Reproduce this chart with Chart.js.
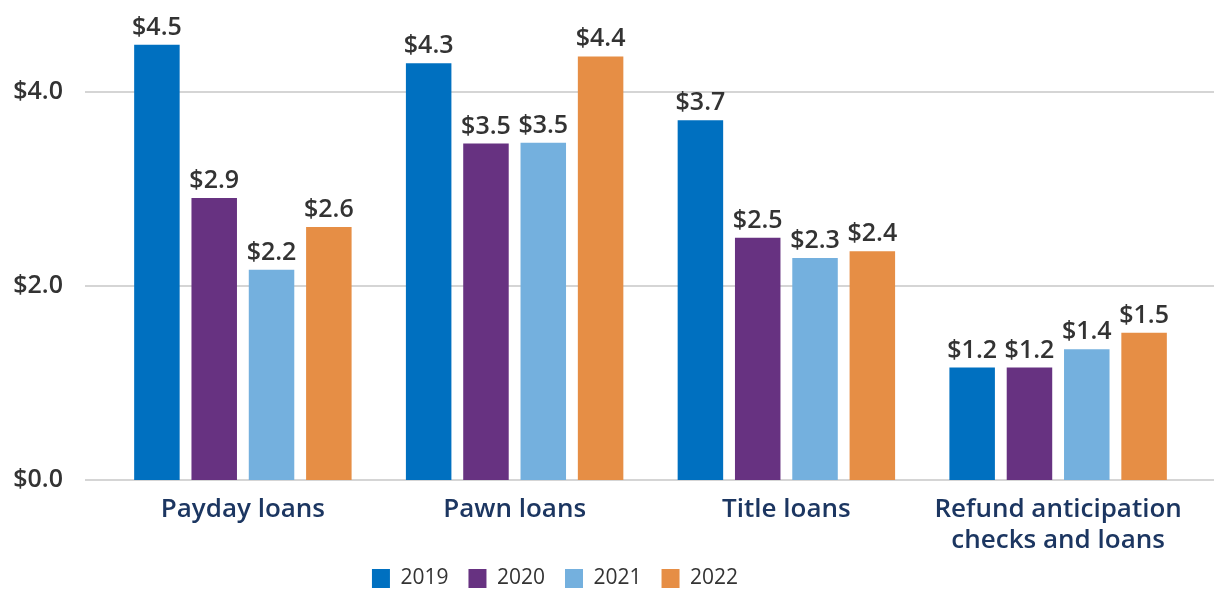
<!DOCTYPE html>
<html>
<head>
<meta charset="utf-8">
<script src="https://cdn.jsdelivr.net/npm/chart.js@4/dist/chart.umd.min.js"></script>
<style>
  html, body { margin: 0; padding: 0; background: #fff; }
  #wrap { position: relative; width: 1214px; height: 590px; }
</style>
</head>
<body>
<div id="wrap"><canvas id="c" width="1214" height="590"></canvas></div>
<script>
const categories = ['Payday loans', 'Pawn loans', 'Title loans', ['Refund anticipation', 'checks and loans']];
const years = ['2019', '2020', '2021', '2022'];
const values2019 = [4.49, 4.30, 3.71, 1.16];
const values2020 = [2.91, 3.47, 2.50, 1.16];
const values2021 = [2.17, 3.48, 2.29, 1.35];
const values2022 = [2.61, 4.37, 2.36, 1.52];
const yTicks = [0, 2, 4];
const colors = ['#0070C0', '#673281', '#74B0DE', '#E68E45'];

const FONT = "'Open Sans', 'Noto Sans', sans-serif";

const gridPlugin = {
  id: 'customGrid',
  beforeDatasetsDraw(chart) {
    const ctx = chart.ctx;
    const y = chart.scales.y;
    ctx.save();
    ctx.strokeStyle = '#D5D5D5';
    ctx.lineWidth = 2;
    yTicks.forEach(v => {
      const py = Math.round(y.getPixelForValue(v));
      ctx.beginPath();
      ctx.moveTo(85, py);
      ctx.lineTo(chart.width, py);
      ctx.stroke();
    });
    ctx.restore();
  }
};

const labelPlugin = {
  id: 'valueLabels',
  afterDatasetsDraw(chart) {
    const ctx = chart.ctx;
    ctx.save();
    ctx.font = '600 25px ' + FONT;
    ctx.fillStyle = '#333333';
    ctx.textAlign = 'center';
    ctx.textBaseline = 'alphabetic';
    chart.data.datasets.forEach((ds, i) => {
      chart.getDatasetMeta(i).data.forEach((bar, j) => {
        ctx.fillText('$' + ds.data[j].toFixed(1), bar.x, bar.y - 10);
      });
    });
    ctx.restore();
  }
};

const legendShift = {
  id: 'legendShift',
  afterLayout(chart) {
    const l = chart.legend;
    const dx = -42, dy = -9;
    l.left += dx; l.right += dx;
    l.top += dy; l.bottom = chart.height;
  }
};

new Chart(document.getElementById('c'), {
  type: 'bar',
  data: {
    labels: categories,
    datasets: [values2019, values2020, values2021, values2022].map((d, i) => ({
      label: years[i],
      data: d,
      backgroundColor: colors[i],
      borderWidth: 0,
      categoryPercentage: 0.8436,
      barPercentage: 0.794
    }))
  },
  options: {
    responsive: false,
    animation: false,
    layout: { padding: { left: 0, right: 20, top: 5, bottom: 0 } },
    plugins: {
      legend: {
        position: 'bottom',
        maxHeight: 33,
        labels: {
          boxWidth: 18,
          boxHeight: 19,
          padding: 20,
          color: '#333333',
          font: { family: FONT, size: 21, weight: '500' }
        }
      },
      tooltip: { enabled: false }
    },
    scales: {
      x: {
        grid: { display: false, drawTicks: false },
        border: { display: false },
        ticks: {
          color: '#1C3661',
          padding: 14,
          font: { family: FONT, size: 26, weight: '600', lineHeight: 1.2 }
        },
        afterFit(scale) { scale.height = 77; }
      },
      y: {
        min: 0,
        max: 4.9,
        grid: { display: false, drawTicks: false },
        border: { display: false },
        afterBuildTicks(axis) { axis.ticks = yTicks.map(v => ({ value: v })); },
        afterFit(scale) { scale.width = 107; scale.paddingTop = 0; scale.paddingBottom = 0; },
        ticks: {
          padding: 44,
          color: '#333333',
          font: { family: FONT, size: 25, weight: '600' },
          callback: v => '$' + Number(v).toFixed(1)
        }
      }
    }
  },
  plugins: [gridPlugin, labelPlugin, legendShift]
});
</script>
</body>
</html>
